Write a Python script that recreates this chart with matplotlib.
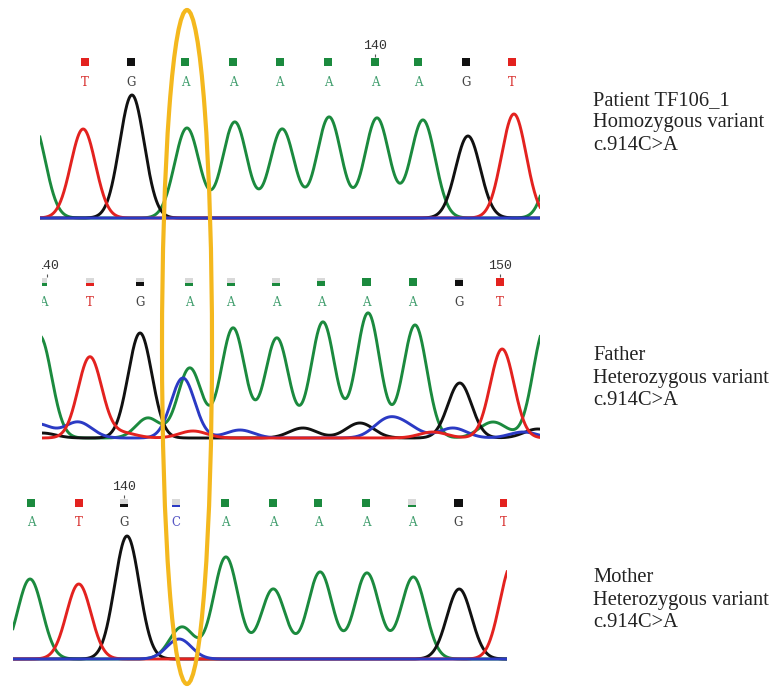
import numpy as np
import matplotlib.pyplot as plt
from matplotlib.patches import Ellipse

W, H = 774, 688

# channel colours (trace / base letter)
trace_col = {"A": "#1b8a3e", "C": "#2b3ac4", "G": "#111111", "T": "#e3221f"}
letter_col = {"A": "#3f9d6c", "C": "#5656c4", "G": "#444444", "T": "#d8302e"}

# ---- panel 1 : patient ----
p1_calls = list("TGAAAAAAGT")
p1_call_pos = [134.0, 134.97, 136.11, 137.12, 138.11, 139.13, 140.12, 141.03, 142.04, 143.01]
p1_qual = [1, 1, 1, 1, 1, 1, 1, 1, 1, 1]
p1_marks = [(140.12, "140")]
p1_xlim = (133.05, 143.60)
p1_peaks = {
    "A": ([132.9, 136.15, 137.16, 138.16, 139.15, 140.16, 141.13, 144.05],
          [95, 90, 96, 89, 101, 100, 98, 95]),
    "C": ([], []),
    "G": ([134.99, 142.08], [123, 82]),
    "T": ([133.96, 143.05], [89, 104]),
}
p1_noise = {"A": ([], []), "C": ([], []), "G": ([], []), "T": ([], [])}

# ---- panel 2 : father ----
p2_calls = list("ATGAAAAAAGT")
p2_call_pos = [139.97, 141.0, 142.10, 143.17, 144.09, 145.08, 146.07, 147.07, 148.08, 149.09, 149.99]
p2_qual = [0.35, 0.3, 0.45, 0.3, 0.35, 0.35, 0.6, 1, 1, 0.75, 1]
p2_marks = [(140.06, "140"), (149.99, "150")]
p2_xlim = (139.95, 150.87)
p2_peaks = {
    "A": ([139.90, 142.27, 143.19, 144.14, 145.10, 146.11, 147.10, 148.13, 150.98],
          [102, 20, 70, 110, 100, 116, 125, 113, 110]),
    "C": ([143.04], [60]),
    "G": ([142.10, 149.11], [105, 55]),
    "T": ([141.0, 150.04], [81, 89]),
}
p2_noise = {
    "A": ([149.84], [16]),
    "C": ([139.85, 140.74, 144.29, 147.51, 147.95, 148.96, 150.5], [14, 16, 8, 17, 10, 10, 6]),
    "G": ([139.95, 145.67, 146.92, 150.82], [5, 10, 15, 9]),
    "T": ([141.72, 143.26, 148.52], [5, 7, 6]),
}

# ---- panel 3 : mother ----
p3_calls = list("ATGCAAAAAGT")
p3_call_pos = [138.0, 139.01, 139.97, 141.07, 142.10, 143.12, 144.07, 145.08, 146.05, 147.03, 148.0]
p3_qual = [1, 1, 0.35, 0.2, 1, 1, 1, 1, 0.25, 1, 1]
p3_marks = [(139.97, "140")]
p3_xlim = (137.62, 148.06)
p3_peaks = {
    "A": ([137.98, 141.19, 142.12, 143.12, 144.11, 145.10, 146.08],
          [80, 32, 102, 70, 87, 86, 82]),
    "C": ([141.13], [20]),
    "G": ([140.03, 147.05], [123, 70]),
    "T": ([139.01, 148.17], [75, 95]),
}
p3_noise = {"A": ([], []), "C": ([], []), "G": ([], []), "T": ([], [])}

labels = [
    ["Patient TF106_1", "Homozygous variant", "c.914C>A"],
    ["Father", "Heterozygous variant", "c.914C>A"],
    ["Mother", "Heterozygous variant", "c.914C>A"],
]


def trace(x, pos, hts, sig):
    y = np.zeros_like(x)
    for p, h in zip(pos, hts):
        y += h * np.exp(-(x - p) ** 2 / (2 * sig ** 2))
    return y


def panel(box, xlim, calls, call_pos, qual, marks, peaks, noise, order):
    left, top, right, bot = box
    ax = fig.add_axes([left / W, 1 - bot / H, (right - left) / W, (bot - top) / H])
    ax.set_xlim(*xlim)
    ax.set_ylim(-4, 183)
    ax.axis("off")
    x = np.linspace(xlim[0] - 0.5, xlim[1] + 0.5, 2000)
    for z, b in enumerate(order):
        y = trace(x, *peaks[b], 0.26) + trace(x, *noise[b], 0.3)
        ax.plot(x, y, color=trace_col[b], lw=2.1, zorder=2 + z, solid_joinstyle="round")
    # quality squares and base letters
    sq_w = 8.5 * (xlim[1] - xlim[0]) / (right - left)
    ax.bar(call_pos, 8.5, width=sq_w, bottom=152, color="#d9d9d9", zorder=1)
    ax.bar(call_pos, [8.5 * q for q in qual], width=sq_w, bottom=152,
           color=[trace_col[c] for c in calls], zorder=1)
    for c, p in zip(calls, call_pos):
        ax.text(p, 136, c, color=letter_col[c], fontsize=8.5, family="DejaVu Serif",
                ha="center", va="center", clip_on=True)
    for p, s in marks:
        ax.text(p, 172, s, color="#333333", fontsize=9.5, family="Liberation Mono",
                ha="center", va="center", clip_on=True)
        ax.vlines(p, 161, 164, color="#555555", lw=0.8)
    return ax


fig = plt.figure(figsize=(W / 100, H / 100), dpi=100)

panel((40, 35, 540, 222), p1_xlim, p1_calls, p1_call_pos, p1_qual, p1_marks,
      p1_peaks, p1_noise, ["A", "G", "T", "C"])
panel((42, 255, 540, 442), p2_xlim, p2_calls, p2_call_pos, p2_qual, p2_marks,
      p2_peaks, p2_noise, ["A", "G", "C", "T"])
panel((13, 476, 507, 663), p3_xlim, p3_calls, p3_call_pos, p3_qual, p3_marks,
      p3_peaks, p3_noise, ["A", "G", "T", "C"])

# highlight of the variant position
ov = fig.add_axes([0, 0, 1, 1], zorder=10)
ov.set_xlim(0, W)
ov.set_ylim(H, 0)
ov.axis("off")
ov.patch.set_alpha(0)
ov.add_patch(Ellipse((187, 347), 50, 674, fill=False, ec="#f4b81e", lw=3))

# sample descriptions
for group, y0 in zip(labels, [105, 360, 582]):
    for i, line in enumerate(group):
        fig.text(593 / W, 1 - (y0 + 22.5 * i) / H, line, fontsize=14.8,
                 family="Liberation Serif", color="#222222", va="baseline")

fig.savefig("out.png", dpi=100)
